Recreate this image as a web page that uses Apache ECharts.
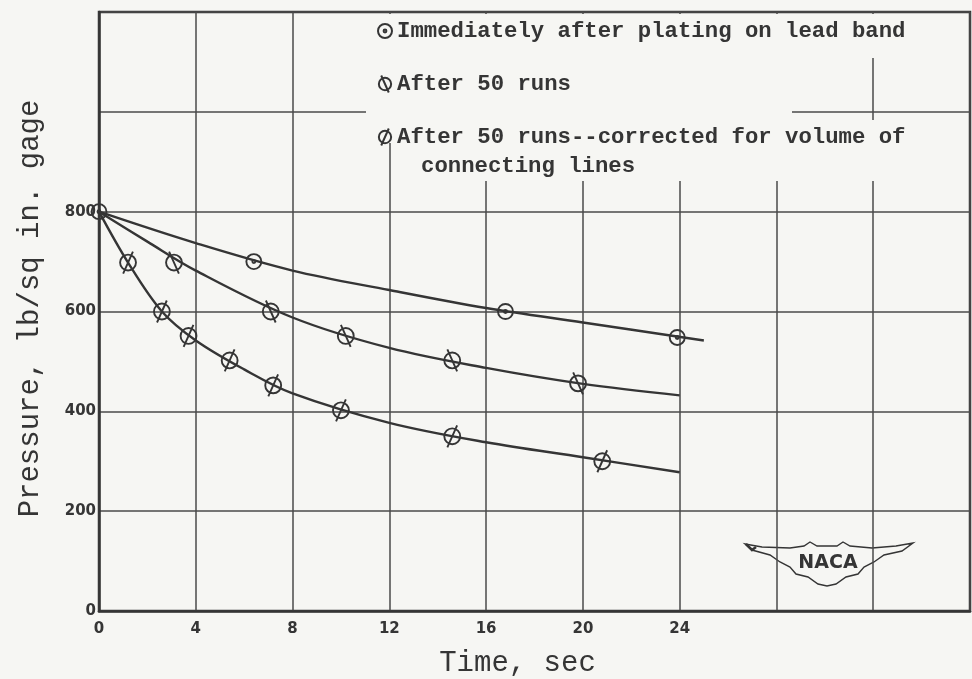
<!DOCTYPE html>
<html>
<head>
<meta charset="utf-8">
<script src="https://cdn.jsdelivr.net/npm/echarts@6/dist/echarts.min.js"></script>
<style>
  html, body { margin: 0; padding: 0; background: #f6f6f3; }
  #chart { width: 972px; height: 679px; }
</style>
</head>
<body>
<div id="chart"></div>
<script>
// axis ticks
const xTicks = [0, 4, 8, 12, 16, 20, 24];
const yTicks = [0, 200, 400, 600, 800];

// legend names
const nameFresh = 'Immediately after plating on lead band';
const nameRuns = 'After 50 runs';
const nameCorr = 'After 50 runs--corrected for volume of connecting lines';

// measured points (time sec, pressure lb/sq in.)
const freshPts = [[0, 800], [6.4, 700], [16.8, 600], [23.9, 548]];
const runsPts = [[3.1, 698], [7.1, 600], [10.2, 551], [14.6, 502], [19.8, 456]];
const corrPts = [[1.2, 698], [2.6, 600], [3.7, 551], [5.4, 502], [7.2, 452], [10.0, 402], [14.6, 350], [20.8, 300]];

// faired curves
const freshCurve = [[0, 800], [4, 737], [8, 682], [12, 643], [16, 607], [20, 578], [25, 542]];
const runsCurve = [[0, 800], [2, 740], [4, 682], [8, 588], [12, 527], [16, 487], [20, 455], [24, 432]];
const corrCurve = [[0, 800], [1.2, 698], [2.6, 600], [4, 542], [6, 484], [8, 436], [12, 377], [16, 338], [20, 308], [24, 278]];

const ink = '#353535';
const dotSym = 'path://M0,7A7,7,0,1,1,14,7A7,7,0,1,1,0,7ZM5.6,7A1.4,1.4,0,1,1,8.4,7A1.4,1.4,0,1,1,5.6,7Z';
const backSym = 'path://M3.5,10A6.5,6.5,0,1,1,16.5,10A6.5,6.5,0,1,1,3.5,10ZM6,1L14,19';
const fwdSym = 'path://M3.5,10A6.5,6.5,0,1,1,16.5,10A6.5,6.5,0,1,1,3.5,10ZM6,19L14,1';

const chart = echarts.init(document.getElementById('chart'));

function curve(name, data) {
    return {
        name: name, type: 'line', data: data, smooth: 0.35,
        symbol: 'none', silent: true, z: 2,
        lineStyle: { color: ink, width: 2.4 }
    };
}
function marks(name, data, sym, size) {
    return {
        name: name, type: 'scatter', data: data, symbol: sym, symbolSize: size,
        symbolKeepAspect: true, z: 3,
        itemStyle: { color: 'rgba(0,0,0,0)', borderColor: ink, borderWidth: 1.9, opacity: 1 }
    };
}

const bg = '#f6f6f3';
function mask(x, y, w, h) {
    return { type: 'rect', z: 1, silent: true, shape: { x: x, y: y, width: w, height: h }, style: { fill: bg } };
}

const option = {
    backgroundColor: bg,
    animation: false,
    grid: {
        left: 99, top: 12, right: 2, bottom: 68, show: true, outerBoundsMode: 'none', containLabel: false,
        borderColor: ink, borderWidth: 2.5, backgroundColor: 'transparent'
    },
    legend: {
        orient: 'vertical', left: 372, top: 15, itemWidth: 14, itemHeight: 17, itemGap: 31,
        selectedMode: false,
        textStyle: { fontFamily: 'Liberation Mono', fontWeight: 'bold', fontSize: 22.3, color: ink, lineHeight: 22 },
        formatter: function (n) { return n === nameCorr ? 'After 50 runs--corrected for volume of' : n; },
        data: [
            { name: nameFresh, icon: dotSym },
            { name: nameRuns, icon: backSym },
            { name: nameCorr, icon: fwdSym }
        ]
    },
    xAxis: {
        type: 'value', min: 0, max: 36, interval: 4,
        name: 'Time, sec', nameLocation: 'middle', nameGap: 38,
        nameTextStyle: { fontFamily: 'Liberation Mono', fontSize: 29, color: ink, padding: [0, 34, 0, 0] },
        axisLine: { show: true, lineStyle: { color: ink, width: 2.5 } },
        axisTick: { show: false },
        splitLine: { show: true, lineStyle: { color: '#4a4a4a', width: 1.5 } },
        axisLabel: {
            margin: 11, fontFamily: 'DejaVu Sans', fontWeight: 'bold', fontSize: 15, color: ink,
            formatter: function (v) { return xTicks.indexOf(v) >= 0 ? String(v) : ''; }
        }
    },
    yAxis: {
        type: 'value', min: 0, max: 1200, interval: 200,
        name: 'Pressure, lb/sq in. gage', nameLocation: 'middle', nameGap: 54, nameRotate: 90,
        nameTextStyle: { fontFamily: 'Liberation Mono', fontSize: 29, color: ink, padding: [0, 0, 0, 6] },
        axisLine: { show: true, lineStyle: { color: ink, width: 2.5 } },
        axisTick: { show: false },
        splitLine: { show: true, lineStyle: { color: '#4a4a4a', width: 1.5 } },
        axisLabel: {
            margin: 3, fontFamily: 'DejaVu Sans', fontWeight: 'bold', fontSize: 15, color: ink,
            formatter: function (v) { return yTicks.indexOf(v) >= 0 ? String(v) : ''; }
        }
    },
    graphic: [
        // clear area behind the key
        mask(366, 14, 546, 44),
        mask(366, 58, 426, 62),
        mask(366, 120, 546, 23),
        mask(400, 143, 512, 38),
        {
            type: 'text', z: 5, left: 421, top: 155,
            style: { text: 'connecting lines', font: 'bold 22.3px "Liberation Mono"', fill: ink }
        },
        // NACA wings
        {
            type: 'group', z: 5,
            children: [
                {
                    type: 'polygon',
                    shape: { points: [[745, 544], [762, 547], [790, 548], [804, 546], [810, 542], [817, 546], [837, 546], [843, 542], [850, 546], [872, 548], [896, 546], [913, 543],
                        [902, 551], [884, 555], [874, 562], [864, 567], [858, 574], [846, 577], [836, 584], [827, 586], [818, 584], [808, 577], [796, 574], [790, 567], [780, 562], [770, 555], [752, 550]] },
                    style: { fill: bg, stroke: ink, lineWidth: 1.4 }
                },
                {
                    type: 'polyline',
                    shape: { points: [[746, 544], [752, 550], [756, 547]] },
                    style: { stroke: ink, lineWidth: 2.5, fill: null }
                },
                {
                    type: 'text', x: 828, y: 563,
                    style: { text: 'NACA', font: 'bold 19px "DejaVu Sans"', fill: ink, align: 'center', verticalAlign: 'middle' }
                }
            ]
        }
    ],
    series: [
        curve('fresh curve', freshCurve),
        curve('runs curve', runsCurve),
        curve('corr curve', corrCurve),
        marks(nameFresh, freshPts, dotSym, 15),
        marks(nameRuns, runsPts, backSym, 22),
        marks(nameCorr, corrPts, fwdSym, 22)
    ]
};
chart.setOption(option);
</script>
</body>
</html>
